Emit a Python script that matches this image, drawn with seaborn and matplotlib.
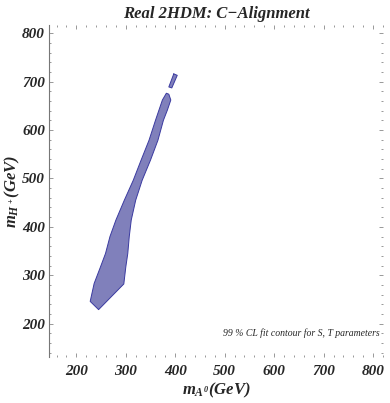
import numpy as np
import pandas as pd
import seaborn as sns
import matplotlib.pyplot as plt
from matplotlib.ticker import MultipleLocator

# main 99% CL region (m_A0, m_H+) in GeV
main_mA = [245, 228, 236, 248, 259, 268, 280, 297, 315, 331, 347, 360, 374, 382, 387, 391,
           384, 376, 365, 350, 333, 320, 311, 307, 304, 300, 296, 245]
main_mH = [229, 246, 283, 315, 345, 380, 414, 455, 496, 538, 579, 620, 662, 676, 674, 662,
           641, 620, 579, 538, 496, 455, 414, 380, 345, 317, 282, 229]

# small detached piece at the top
top_mA = [397, 404, 393, 387, 397]
top_mH = [716, 713, 687, 689, 716]

xticks = [200, 300, 400, 500, 600, 700, 800]
yticks = [200, 300, 400, 500, 600, 700, 800]

sns.set_style("white")
plt.rcParams['font.family'] = ['Liberation Serif', 'DejaVu Serif']
plt.rcParams['mathtext.fontset'] = 'custom'
plt.rcParams['mathtext.rm'] = 'Liberation Serif:bold:italic'
plt.rcParams['mathtext.it'] = 'Liberation Serif:bold:italic'
plt.rcParams['mathtext.bf'] = 'Liberation Serif:bold:italic'

fig = plt.figure(figsize=(3.9, 4.03), dpi=100)
ax = fig.add_axes([0.126, 0.114, 0.856, 0.824])

fill_col = "#8080bb"
edge_col = "#3a3aa0"
for xs, ys in [(main_mA, main_mH), (top_mA, top_mH)]:
    ax.fill(xs, ys, facecolor=fill_col, edgecolor="none")
    d = pd.DataFrame({"mA": xs, "mH": ys})
    sns.lineplot(data=d, x="mA", y="mH", sort=False, estimator=None, color=edge_col, lw=0.7, ax=ax)

ax.set_xlim(145, 820)
ax.set_ylim(131, 817)

for s in ["top", "right", "bottom"]:
    ax.spines[s].set_visible(False)
ax.spines["left"].set_color("#777777")
ax.spines["left"].set_linewidth(0.8)

ax.set_xticks(xticks)
ax.set_yticks(yticks)
ax.xaxis.set_minor_locator(MultipleLocator(20))
ax.yaxis.set_minor_locator(MultipleLocator(20))
ax.tick_params(which="both", direction="in", top=True, right=True, bottom=True, left=True,
               color="#888888", width=0.6)
ax.tick_params(which="major", length=3)
ax.tick_params(which="minor", length=1.5)
ax.tick_params(axis="x", labelsize=11, pad=6)
ax.tick_params(axis="y", labelsize=11, pad=3)
for lab in ax.get_xticklabels() + ax.get_yticklabels():
    lab.set_fontweight("bold")
    lab.set_fontstyle("italic")

ax.set_xlabel(r"$m_{A^0}(GeV)$", fontsize=12, labelpad=2)
ax.set_ylabel(r"$m_{H^+}(GeV)$", fontsize=12)
ax.yaxis.set_label_coords(-0.08, 0.5)
ax.set_title("Real 2HDM: C\u2212Alignment", fontsize=12, fontweight="bold", fontstyle="italic", pad=5)

ax.text(0.99, 0.072, "99 % CL fit contour for S, T parameters", transform=ax.transAxes,
        ha="right", va="center", fontsize=7, fontstyle="italic")

plt.savefig("out.png", dpi=100)
